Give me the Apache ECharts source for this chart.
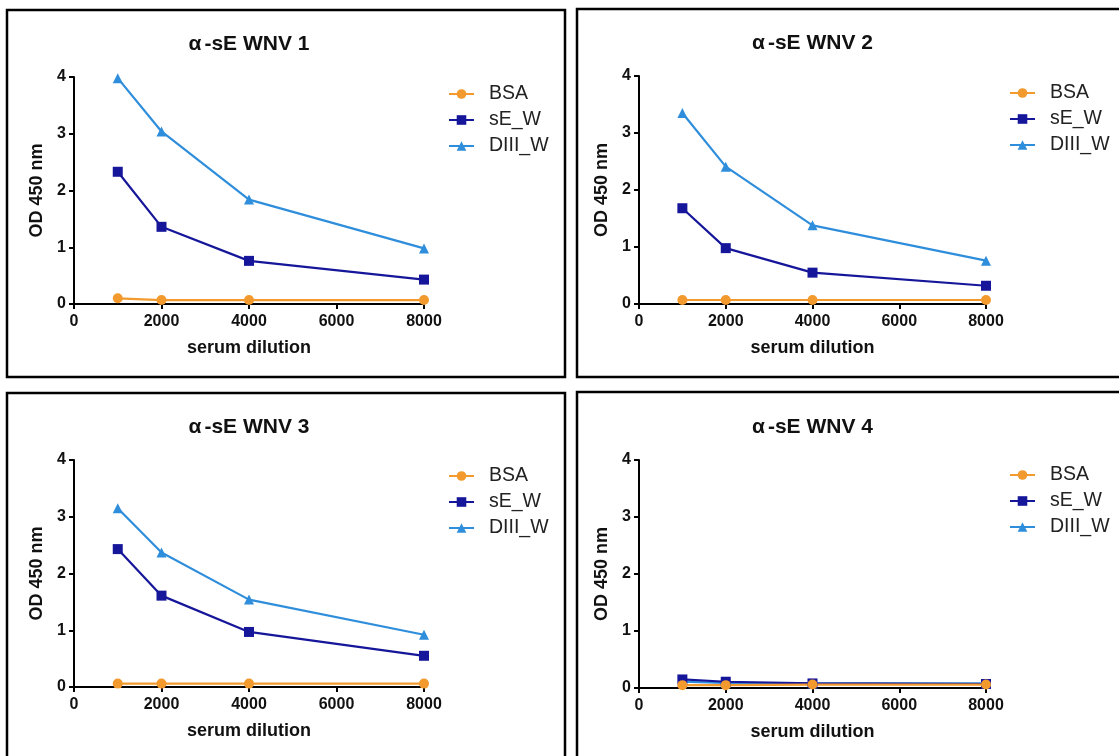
<!DOCTYPE html>
<html>
<head>
<meta charset="utf-8">
<script src="https://cdn.jsdelivr.net/npm/echarts@6/dist/echarts.min.js"></script>
<style>
  html, body { margin: 0; padding: 0; background: #fff; }
  #chart { width: 1119px; height: 756px; }
</style>
</head>
<body>
<div id="chart"></div>
<script>
// Serum dilutions tested and the three coating antigens
const dilutions = [1000, 2000, 4000, 8000];
const seriesNames = ['BSA', 'sE_W', 'DIII_W'];
const panelTitles = ['-sE WNV 1', '-sE WNV 2', '-sE WNV 3', '-sE WNV 4'];
const xAxisTitle = 'serum dilution';
const yAxisTitle = 'OD 450 nm';

// OD 450 nm readings, one array per serum and antigen
const bsa1  = [0.10, 0.07, 0.07, 0.07];
const sE1   = [2.33, 1.36, 0.76, 0.43];
const diii1 = [3.98, 3.04, 1.84, 0.98];

const bsa2  = [0.07, 0.07, 0.07, 0.07];
const sE2   = [1.68, 0.98, 0.55, 0.32];
const diii2 = [3.35, 2.41, 1.38, 0.76];

const bsa3  = [0.06, 0.06, 0.06, 0.06];
const sE3   = [2.43, 1.61, 0.97, 0.55];
const diii3 = [3.15, 2.37, 1.54, 0.92];

const bsa4  = [0.05, 0.05, 0.06, 0.06];
const sE4   = [0.15, 0.11, 0.08, 0.07];
const diii4 = [0.11, 0.09, 0.08, 0.08];

const panelData = [
  { BSA: bsa1, sE_W: sE1, DIII_W: diii1 },
  { BSA: bsa2, sE_W: sE2, DIII_W: diii2 },
  { BSA: bsa3, sE_W: sE3, DIII_W: diii3 },
  { BSA: bsa4, sE_W: sE4, DIII_W: diii4 }
];

const colors = { BSA: '#F29A2E', sE_W: '#16169A', DIII_W: '#2F8EDB' };
const symbols = { BSA: 'circle', sE_W: 'rect', DIII_W: 'triangle' };
const symbolSizes = { BSA: 10, sE_W: 10, DIII_W: 10 };

// Pixel layout of the four panels (frame, plot area, legend)
const layout = [
  { frame: [7, 10, 558, 367],  grid: [74, 77, 350, 227],  legend: [448, 84] },
  { frame: [577, 9, 600, 368], grid: [639, 76, 347, 228], legend: [1009, 83] },
  { frame: [7, 393, 558, 420], grid: [74, 460, 350, 227], legend: [448, 466] },
  { frame: [577, 392, 600, 420], grid: [639, 460, 347, 228], legend: [1009, 465] }
];

const FONT = 'Liberation Sans, Arial, Helvetica, sans-serif';

const grids = [], xAxes = [], yAxes = [], series = [], legends = [], titles = [], graphics = [];

layout.forEach((p, i) => {
  const [gl, gt, gw, gh] = p.grid;
  grids.push({ left: gl, top: gt, width: gw, height: gh, containLabel: false });

  xAxes.push({
    type: 'value', gridIndex: i, min: 0, max: 8000, interval: 2000,
    name: xAxisTitle, nameLocation: 'middle', nameGap: 35,
    nameTextStyle: { fontFamily: FONT, fontSize: 18, fontWeight: 'bold', color: '#111' },
    axisLine: { show: true, onZero: false, lineStyle: { color: '#000', width: 2 } },
    axisTick: { show: true, length: 5, lineStyle: { color: '#000', width: 2 } },
    axisLabel: {
      margin: 10, fontFamily: FONT, fontSize: 16, fontWeight: 'bold', color: '#111',
      formatter: v => String(v)
    },
    splitLine: { show: false }
  });

  yAxes.push({
    type: 'value', gridIndex: i, min: 0, max: 4, interval: 1,
    name: yAxisTitle, nameLocation: 'middle', nameGap: 28, nameRotate: 90,
    nameTextStyle: { fontFamily: FONT, fontSize: 18, fontWeight: 'bold', color: '#111' },
    axisLine: { show: true, lineStyle: { color: '#000', width: 2 } },
    axisTick: { show: true, length: 5, lineStyle: { color: '#000', width: 2 } },
    axisLabel: { margin: 8, fontFamily: FONT, fontSize: 16, fontWeight: 'bold', color: '#111' },
    splitLine: { show: false }
  });

  // draw DIII_W first so the lower curves sit on top
  ['DIII_W', 'sE_W', 'BSA'].forEach(name => {
    series.push({
      type: 'line', name: name, xAxisIndex: i, yAxisIndex: i,
      data: dilutions.map((d, k) => [d, panelData[i][name][k]]),
      symbol: symbols[name], symbolSize: symbolSizes[name],
      itemStyle: { color: colors[name] },
      lineStyle: { color: colors[name], width: 2.2 },
      emphasis: { disabled: true },
      animation: false
    });
  });

  legends.push({
    data: seriesNames, orient: 'vertical', left: p.legend[0], top: p.legend[1],
    padding: 0, itemWidth: 25, itemHeight: 12, itemGap: 6,
    selectedMode: false,
    textStyle: { fontFamily: FONT, fontSize: 19.5, color: '#222', lineHeight: 19, padding: [0, 0, 0, 10] }
  });

  titles.push({
    text: '{a|α}{b|' + panelTitles[i] + '}',
    left: gl + gw / 2, top: gt - 43, textAlign: 'center', padding: 0,
    textStyle: {
      rich: {
        a: { fontFamily: FONT, fontSize: 21, color: '#111', padding: [0, 3, 0, 0] },
        b: { fontFamily: FONT, fontSize: 21, fontWeight: 'bold', color: '#111' }
      }
    }
  });

  const [fx, fy, fw, fh] = p.frame;
  graphics.push({
    type: 'rect', shape: { x: fx, y: fy, width: fw, height: fh },
    style: { fill: 'none', stroke: '#000', lineWidth: 2.5 }, silent: true, z: 100
  });
});

const chart = echarts.init(document.getElementById('chart'), null, { renderer: 'canvas' });
chart.setOption({
  backgroundColor: '#fff',
  animation: false,
  title: titles,
  legend: legends,
  grid: grids,
  xAxis: xAxes,
  yAxis: yAxes,
  series: series,
  graphic: graphics
});
</script>
</body>
</html>
